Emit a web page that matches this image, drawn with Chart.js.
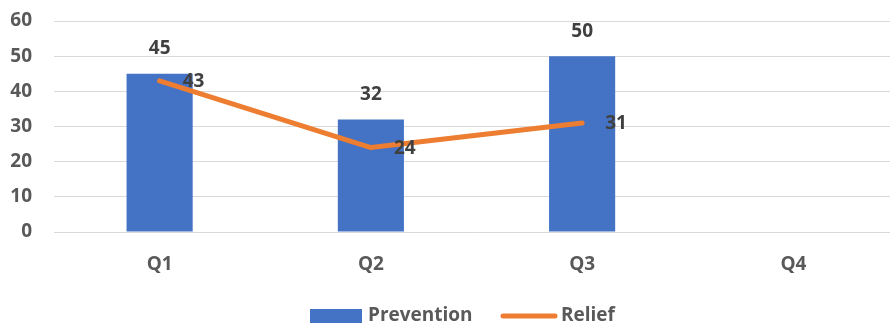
<!DOCTYPE html>
<html>
<head>
<meta charset="utf-8">
<script src="https://cdn.jsdelivr.net/npm/chart.js@4"></script>
<style>
  html, body { margin: 0; padding: 0; background: #fff; overflow: hidden; }
  #wrap { width: 900px; height: 327px; }
</style>
</head>
<body>
<div id="wrap"><canvas id="chart" width="900" height="327"></canvas></div>
<script>
const categories = ['Q1', 'Q2', 'Q3', 'Q4'];
const prevention = [45, 32, 50, null];
const relief = [43, 24, 31, null];
const yTicks = [0, 10, 20, 30, 40, 50, 60];

const FONT = '"Open Sans", "Liberation Sans", sans-serif';

// value labels: above the bars, right of the line points
const valueLabels = {
  id: 'valueLabels',
  afterDatasetsDraw(chart) {
    const c = chart.ctx;
    c.save();
    c.font = 'bold 19px ' + FONT;
    c.fillStyle = '#404040';
    c.textBaseline = 'middle';
    chart.getDatasetMeta(0).data.forEach((bar, i) => {
      if (prevention[i] == null) return;
      c.textAlign = 'center';
      c.fillText(prevention[i], bar.x, bar.y - 25);
    });
    chart.getDatasetMeta(1).data.forEach((pt, i) => {
      if (relief[i] == null) return;
      c.textAlign = 'left';
      c.fillText(relief[i], pt.x + 23, pt.y + 1);
    });
    c.restore();
  }
};

// legend drawn like the office one: box for bars, thick line for the line
const bottomLegend = {
  id: 'bottomLegend',
  afterDraw(chart) {
    const c = chart.ctx;
    const y = 316;
    c.save();
    c.font = 'bold 19px ' + FONT;
    c.fillStyle = '#4472C4';
    c.fillRect(310, y - 7, 52, 14);
    c.fillStyle = '#595959';
    c.textBaseline = 'middle';
    c.textAlign = 'left';
    c.fillText('Prevention', 368, y);
    c.strokeStyle = '#ED7D31';
    c.lineWidth = 5;
    c.lineCap = 'round';
    c.beginPath();
    c.moveTo(503, y);
    c.lineTo(555, y);
    c.stroke();
    c.fillText('Relief', 561, y);
    c.restore();
  }
};

new Chart(document.getElementById('chart'), {
  type: 'bar',
  data: {
    labels: categories,
    datasets: [{
      label: 'Prevention',
      data: prevention,
      backgroundColor: '#4472C4',
      categoryPercentage: 1,
      barPercentage: 0.313,
      order: 2
    }, {
      type: 'line',
      label: 'Relief',
      data: relief,
      borderColor: '#ED7D31',
      borderWidth: 5,
      borderCapStyle: 'round',
      borderJoinStyle: 'round',
      pointRadius: 0,
      fill: false,
      spanGaps: false,
      order: 1
    }]
  },
  options: {
    responsive: false,
    animation: false,
    layout: { padding: { top: 21, right: 1, bottom: 50, left: 0 } },
    plugins: {
      legend: { display: false },
      tooltip: { enabled: false }
    },
    scales: {
      x: {
        afterFit(scale) { scale.height = 45; scale.paddingLeft = 0; scale.paddingRight = 0; },
        grid: { display: false },
        border: { display: false },
        ticks: { color: '#595959', font: { family: FONT, size: 19, weight: 'bold' }, padding: 13 }
      },
      y: {
        min: 0,
        max: 60,
        afterBuildTicks(scale) { scale.ticks = yTicks.map(v => ({ value: v })); },
        afterFit(scale) { scale.width = 54; scale.paddingTop = 0; scale.paddingBottom = 0; },
        grid: { color: '#d9d9d9', lineWidth: 1, drawTicks: false },
        border: { display: false },
        ticks: { color: '#595959', font: { family: FONT, size: 19, weight: 'bold' }, padding: 22 }
      }
    }
  },
  plugins: [valueLabels, bottomLegend]
});
</script>
</body>
</html>
